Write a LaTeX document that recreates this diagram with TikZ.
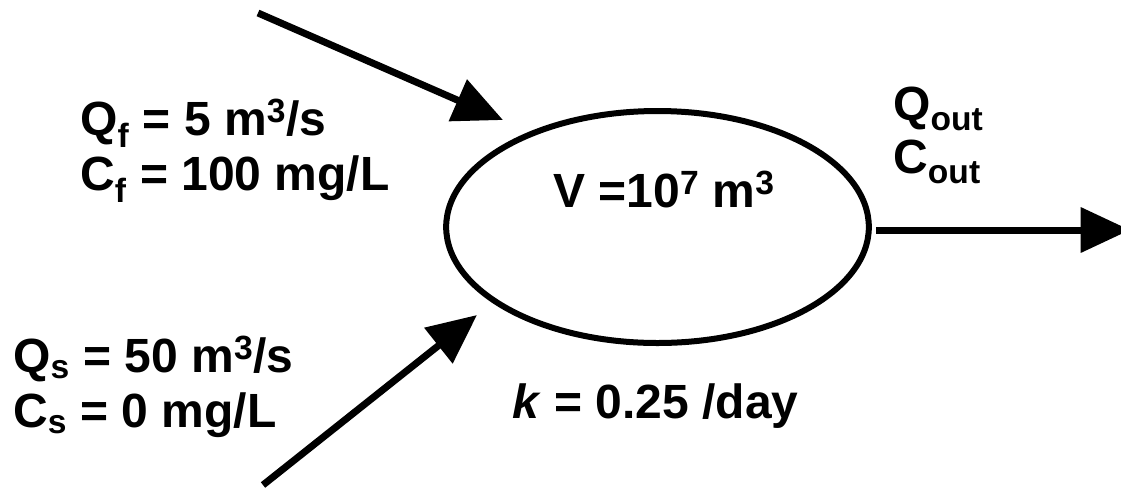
\documentclass[tikz,border=0pt]{standalone}
\usepackage{fontspec}
\setmainfont{Liberation Sans}
\usetikzlibrary{arrows.meta,shapes.geometric}
\newcommand{\lsub}[1]{\textsubscript{#1}}
\newcommand{\lsup}[1]{\textsuperscript{#1}}
\begin{document}
\begin{tikzpicture}[x=0.75pt,y=-0.75pt,
  lbl/.style={anchor=base west, inner sep=0pt, font=\fontsize{36}{41}\selectfont\bfseries},
  flow/.style={line width=5.25pt, -{Triangle[length=37pt,width=33pt]}},
  tankstyle/.style={ellipse, draw, line width=4.5pt, inner sep=0pt, minimum width=317pt, minimum height=174pt}]
\useasboundingbox (0,0) rectangle (1121,487);
\node[tankstyle] (tank) at (657.5,227) {};
\coordinate (fin) at (258,13);
\coordinate (fend) at (503,120);
\coordinate (sin) at (263,485);
\coordinate (send) at (477,315);
\coordinate (oin) at (876,230);
\coordinate (oend) at (1130,230);
\draw[flow] (fin) -- (fend);
\draw[flow] (sin) -- (send);
\draw[flow] (oin) -- (oend);
\node[lbl] (qf) at (80,135) {Q\lsub{f} = 5 m\lsup{3}/s};
\node[lbl] (cf) at (80,190) {C\lsub{f} = 100 mg/L};
\node[lbl] (qs) at (13,372) {Q\lsub{s} = 50 m\lsup{3}/s};
\node[lbl] (cs) at (13,427) {C\lsub{s} = 0 mg/L};
\node[lbl] (vol) at (553,207) {V =10\lsup{7} m\lsup{3}};
\node[lbl] (kk) at (512,418) {\textit{k} = 0.25 /day};
\node[lbl] (qo) at (893,120) {Q\lsub{out}};
\node[lbl] (co) at (893,173) {C\lsub{out}};
\end{tikzpicture}
\end{document}
